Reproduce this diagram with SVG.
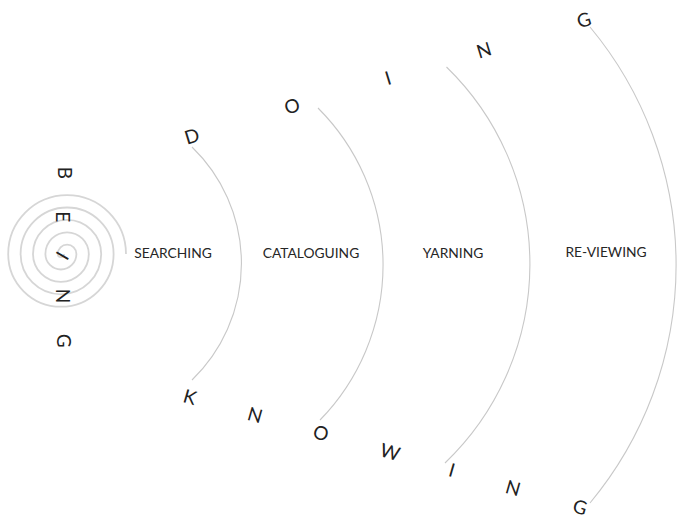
<svg xmlns="http://www.w3.org/2000/svg" width="685" height="520" viewBox="0 0 685 520">
  <style>
    .bg { fill: #ffffff; }
    .spiral { fill: none; stroke: #d6d6d6; stroke-width: 1.8; }
    .arc { fill: none; stroke: #c8c8c8; stroke-width: 1.1; }
    .letter { font-family: Lato, "Open Sans", "Liberation Sans", sans-serif; font-size: 19px; fill: #222222; text-anchor: middle; }
    .label { font-family: Lato, "Open Sans", "Liberation Sans", sans-serif; font-size: 13.8px; fill: #262626; text-anchor: middle; }
  </style>
  <rect class="bg" x="0" y="0" width="685" height="520"/>

  <g id="being">
    <path class="spiral" d="M64,254 A3.1,3.1 0 0 1 57.8,254 A9.3,9.3 0 0 1 76.4,254 A15.5,15.5 0 0 1 45.4,254 A21.7,21.7 0 0 1 88.8,254 A27.9,27.9 0 0 1 33,254 A34.1,34.1 0 0 1 101.2,254 A40.3,40.3 0 0 1 20.6,254 A46.5,46.5 0 0 1 113.6,254 A52.7,52.7 0 0 1 8.2,254 A58.9,58.9 0 0 1 126,254"/>
    <text class="letter" transform="translate(65,173) rotate(90)" x="0" y="6.8">B</text>
    <text class="letter" transform="translate(63.3,216.7) rotate(90)" x="0" y="6.8">E</text>
    <text class="letter" transform="translate(62.3,255.7) rotate(120)" x="0" y="6.8">I</text>
    <text class="letter" transform="translate(63.3,296) rotate(90)" x="0" y="6.8">N</text>
    <text class="letter" transform="translate(64,340.7) rotate(90)" x="0" y="6.8">G</text>
  </g>

  <g id="connectors">
    <path class="arc" d="M192,147 A162,162 0 0 1 192,380"/>
    <path class="arc" d="M318,108 A222,222 0 0 1 320,420"/>
    <path class="arc" d="M446.5,67 A275,275 0 0 1 445,463"/>
    <path class="arc" d="M590,27 A372,372 0 0 1 590,503"/>
  </g>

  <g id="searching"><text class="label" x="173" y="258">SEARCHING</text></g>
  <g id="cataloguing"><text class="label" x="311" y="258">CATALOGUING</text></g>
  <g id="yarning"><text class="label" x="453" y="258">YARNING</text></g>
  <g id="re-viewing"><text class="label" x="606" y="257">RE-VIEWING</text></g>

  <g id="doing">
    <text class="letter" transform="translate(192,136) rotate(-17)" x="0" y="6.8">D</text>
    <text class="letter" transform="translate(292,106) rotate(-17)" x="0" y="6.8">O</text>
    <text class="letter" transform="translate(388,78) rotate(-17)" x="0" y="6.8">I</text>
    <text class="letter" transform="translate(484,50) rotate(-17)" x="0" y="6.8">N</text>
    <text class="letter" transform="translate(584,20) rotate(-17)" x="0" y="6.8">G</text>
  </g>

  <g id="knowing">
    <text class="letter" transform="translate(190,397) rotate(16)" x="0" y="6.8">K</text>
    <text class="letter" transform="translate(255,415) rotate(16)" x="0" y="6.8">N</text>
    <text class="letter" transform="translate(321,433) rotate(16)" x="0" y="6.8">O</text>
    <text class="letter" transform="translate(390,452) rotate(16)" x="0" y="6.8">W</text>
    <text class="letter" transform="translate(452,470) rotate(16)" x="0" y="6.8">I</text>
    <text class="letter" transform="translate(513,488) rotate(16)" x="0" y="6.8">N</text>
    <text class="letter" transform="translate(580,507) rotate(16)" x="0" y="6.8">G</text>
  </g>
</svg>
